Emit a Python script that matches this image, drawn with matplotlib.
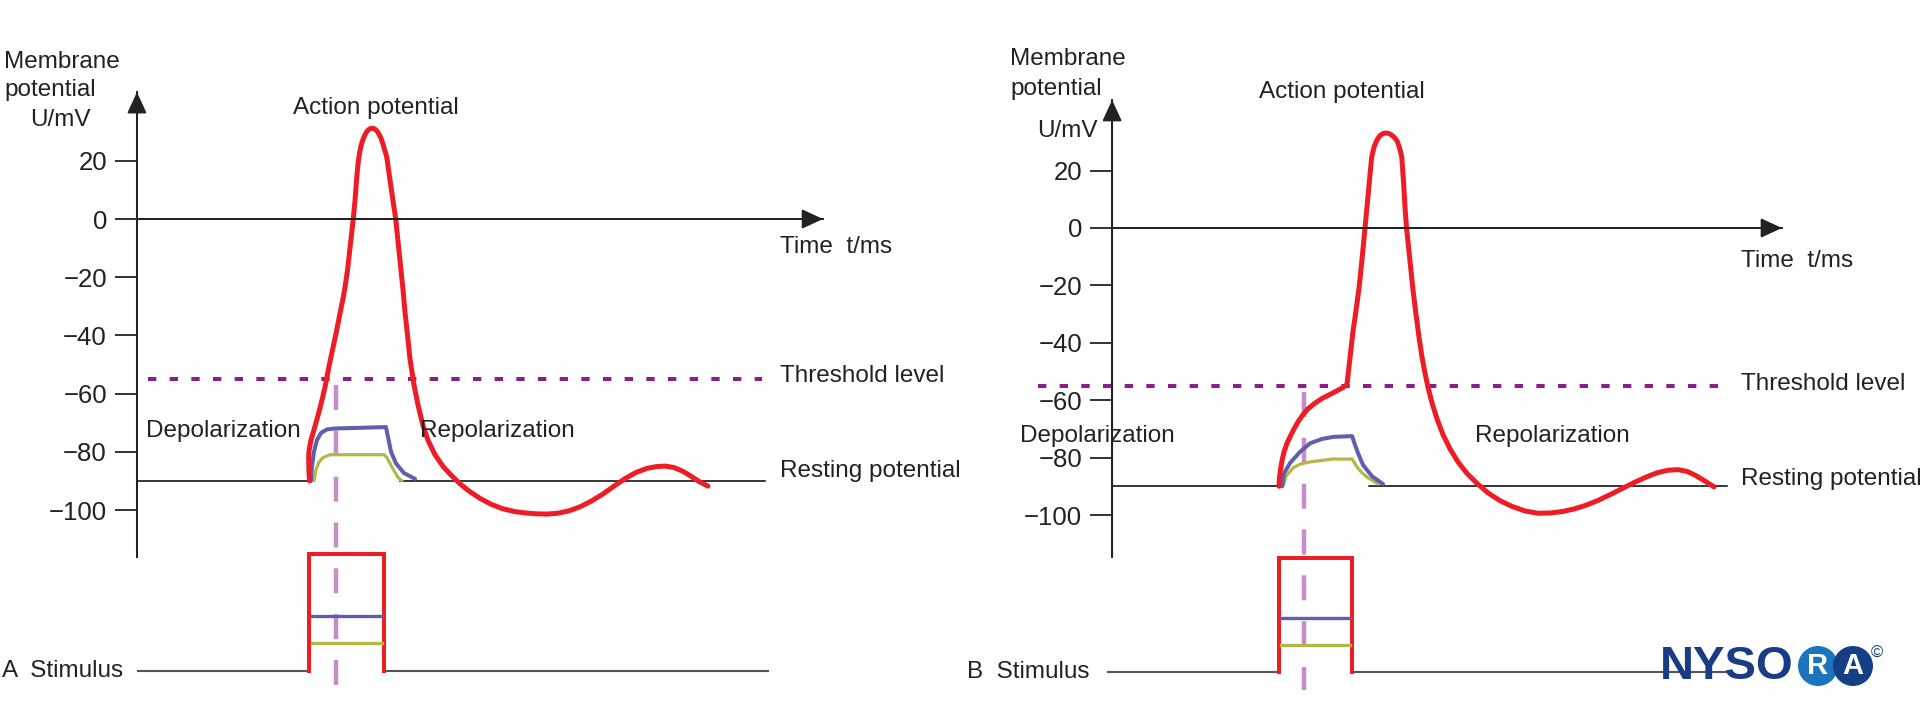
import matplotlib.pyplot as plt
from matplotlib.patches import Ellipse

plt.rcParams['font.family'] = ['Liberation Sans', 'DejaVu Sans']
plt.rcParams['lines.scale_dashes'] = False

# membrane potential (mV)
y_ticks = [20, 0, -20, -40, -60, -80, -100]
threshold = -55
resting = -90

# panel A: time (ms) and potential (mV)
a_red_t = [0.03, -0.01, -0.02, 0, 0.13, 0.33, 0.53, 0.73, 0.9, 1.07, 1.23, 1.4, 1.6,
           1.8, 1.97, 2.13, 2.3, 2.43, 2.57, 2.7, 2.83, 2.95, 3.07, 3.17, 3.27, 3.37,
           3.47, 3.58, 3.7, 3.83, 3.97, 4.1, 4.23, 4.37, 4.5, 4.63, 4.77, 4.9, 5.03,
           5.18, 5.33, 5.53, 5.78, 6.03, 6.27, 6.4, 6.57, 6.73, 7.0, 7.27, 7.6, 7.93,
           8.4, 8.93, 9.47, 10.07, 10.67, 11.4, 12.13, 12.87, 13.67, 14.4, 15.13,
           15.87, 16.6, 17.33, 18.07, 18.8, 19.6, 20.33, 21.07, 21.8, 22.53, 23.13,
           23.73, 24.33, 24.93, 25.47, 26.0, 26.6]
a_red_u = [-90, -86, -82, -79.7, -76, -72.5, -68.8, -65, -61.5, -57.7, -53.4, -49, -44.2,
           -39.4, -35, -30.8, -26.5, -22.5, -17.5, -11.5, -5.5, 0, 6.5, 13.5, 19, 22.7,
           25.2, 27, 28.6, 29.9, 30.7, 31.1, 31.2, 31.0, 30.4, 29.5, 28.1, 26.3, 24.0,
           21.4, 15.9, 8.8, 0, -12.5, -24.4, -32, -40, -48, -57, -64, -71, -76,
           -81, -85, -88, -91, -93.5, -96, -98, -99.5, -100.5, -101, -101.3,
           -101.4, -101.1, -100.3, -98.9, -97, -94.5, -91.8, -89.2, -87.1, -85.7, -85.1,
           -84.9, -85.4, -86.7, -88.4, -90.2, -91.8]
a_blue_t = [0.13, 0.2, 0.33, 0.53, 0.8, 1.2, 1.73, 5.13, 5.27, 5.47, 5.8, 6.33, 7.07]
a_blue_u = [-90, -85, -80, -76, -73.5, -72.3, -72, -71.5, -75, -80, -84, -87.3, -89.3]
a_yel_t = [0.33, 0.47, 0.67, 0.93, 1.4, 5.0, 5.2, 5.4, 5.67, 5.93, 6.2]
a_yel_u = [-90, -86, -83.5, -82, -81, -81, -82, -84, -86.5, -88.8, -90]

# panel B
b_red_t = [0, 0.03, 0.1, 0.2, 0.33, 0.53, 0.73, 1.0, 1.27, 1.6, 1.93, 2.4, 2.93, 3.47,
           3.93, 4.27, 4.53, 4.67, 4.8, 4.93, 5.07, 5.2, 5.33, 5.53, 5.73, 5.93, 6.07,
           6.18, 6.33, 6.53, 6.73, 6.93, 7.13, 7.33, 7.53, 7.73, 7.87, 8.03, 8.18,
           8.3, 8.4, 8.5, 8.7, 8.93, 9.13, 9.33, 9.53, 9.73, 9.93, 10.2, 10.53,
           10.93, 11.4, 11.93, 12.53, 13.2, 13.93, 14.73, 15.53, 16.4, 17.27, 18.07,
           18.87, 19.67, 20.47, 21.27, 22.07, 22.87, 23.67, 24.47, 25.2, 25.93, 26.6,
           27.2, 27.8, 28.4, 29.0]
b_red_u = [-90, -87, -84, -81, -78, -75, -72.8, -70, -67.5, -65, -63, -61, -59.2, -57.8,
           -56.5, -55.6, -54.5, -48, -42, -36, -31, -26, -21, -11, 0, 11, 19,
           24.8, 28.2, 30.7, 32.2, 32.9, 33.1, 32.9, 32.3, 31.3, 30.3, 28, 24.8,
           16, 7, 0, -10, -21.6, -30, -38, -45, -50.5, -55.5, -61, -66.5,
           -72, -77, -81.5, -85.5, -89, -92.3, -95, -97, -98.6, -99.4, -99.3,
           -98.8, -97.9, -96.6, -94.9, -92.9, -90.8, -88.7, -86.8, -85.3, -84.4, -84.2,
           -84.8, -86.3, -88.2, -90.2]
b_blue_t = [0.2, 0.33, 0.73, 1.4, 2.07, 2.87, 3.6, 4.87, 5.0, 5.27, 5.6, 6.2, 6.93]
b_blue_u = [-90, -85.5, -81.9, -78, -75, -73.5, -72.8, -72.5, -74.6, -78.5, -82.6, -86.5, -89.2]
b_yel_t = [0.27, 0.47, 0.93, 1.4, 2.07, 3.6, 4.87, 5.2, 5.53, 5.87, 6.6]
b_yel_u = [-90, -86.5, -83.6, -82.3, -81.5, -80.5, -80.5, -83.3, -85.3, -86.8, -89.2]

# stimulus amplitudes (arbitrary units)
stim_red = 1.0
stim_blue = 0.47
stim_yel = 0.24
a_stim_end = 5.0
b_stim_end = 4.87

RED = '#EE1C25'
BLUE = '#5F5FAD'
YEL = '#B3B746'
THR = '#8B1E8B'
PINK = '#C98BC9'
AX = '#222222'

fig = plt.figure(figsize=(19.2, 7.24), dpi=100)


def make_axes(left, xlim, ylim, slim):
    ax = fig.add_axes([left, 0, 0.5, 1])
    ax.set_xlim(*xlim)
    ax.set_ylim(*ylim)
    ax.patch.set_visible(False)
    sax = fig.add_axes([left, 0, 0.5, 1])
    sax.set_xlim(*xlim)
    sax.set_ylim(*slim)
    sax.axis('off')
    sax.patch.set_visible(False)
    return ax, sax


def draw_panel(ax, sax, red, blue, yel, stim_end, lay):
    at = lay['axis_t']
    for s in ['top', 'right']:
        ax.spines[s].set_visible(False)
    ax.spines['left'].set_position(('data', at))
    ax.spines['left'].set_bounds(lay['axis_bot'], lay['axis_top'])
    ax.spines['bottom'].set_position(('data', 0))
    ax.spines['bottom'].set_bounds(at, lay['time_end'])
    for s in ['left', 'bottom']:
        ax.spines[s].set_color(AX)
        ax.spines[s].set_linewidth(1.4)
    ax.set_xticks([])
    ax.set_yticks(y_ticks)
    ax.set_yticklabels([str(v).replace('-', '\u2212') for v in y_ticks])
    ax.tick_params(axis='y', length=15.8, width=1.3, pad=5.8, labelsize=18.5,
                   colors=AX)
    head = dict(arrowstyle='-|>,head_length=0.65,head_width=0.3', mutation_scale=20,
                color=AX, lw=1.4, shrinkA=0, shrinkB=0)
    ax.annotate('', xy=(at, lay['axis_top']), xytext=(at, lay['axis_bot']), arrowprops=head)
    ax.annotate('', xy=(lay['time_end'], 0), xytext=(at, 0), arrowprops=head)

    # resting and threshold levels
    ax.plot([at, 0], [resting, resting], color='k', lw=1.1)
    ax.plot(lay['rest_right'], [resting, resting], color='k', lw=1.1)
    ax.plot(lay['thr_span'], [threshold, threshold], color=THR, lw=2.9,
            ls=(0, (6, 9.6)))

    # stimulus marker
    ax.plot([lay['pink_t']] * 2, [-57, lay['pink_bot']], color=PINK, lw=3.2,
            ls=(0, (18, 15)))

    ax.plot(yel[0], yel[1], color=YEL, lw=2.3, solid_capstyle='round',
            solid_joinstyle='round')
    ax.plot(blue[0], blue[1], color=BLUE, lw=2.9, solid_capstyle='round',
            solid_joinstyle='round')
    ax.plot(red[0], red[1], color=RED, lw=3.6, solid_capstyle='round',
            solid_joinstyle='round')

    # stimulus trace
    sax.plot([lay['stim_x0'], 0], [0, 0], color='#555555', lw=1.5)
    sax.plot([stim_end, lay['stim_x1']], [0, 0], color='#555555', lw=1.5)
    sax.plot([0, 0, stim_end, stim_end], [0, stim_red, stim_red, 0], color=RED, lw=2.9,
             solid_joinstyle='miter')
    sax.plot(lay['bar'], [stim_blue] * 2, color=BLUE, lw=2.4)
    sax.plot(lay['bar'], [stim_yel] * 2, color=YEL, lw=2.4)

    tk = dict(fontsize=17.5, color=AX, va='center')
    ax.text(*lay['ap'], 'Action potential', ha='center', **tk)
    ax.text(*lay['time'], 'Time  t/ms', ha='left', **tk)
    ax.text(*lay['thr'], 'Threshold level', ha='left', **tk)
    ax.text(*lay['rest'], 'Resting potential', ha='left', **tk)
    ax.text(*lay['dep'], 'Depolarization', ha='left', **tk)
    ax.text(*lay['rep'], 'Repolarization', ha='left', **tk)
    ax.text(*lay['mem'], 'Membrane', ha='left', **tk)
    ax.text(*lay['pot'], 'potential', ha='left', **tk)
    ax.text(*lay['unit'], 'U/mV', ha='left', **tk)
    sax.text(lay['stim_lab'], 0, lay['letter'] + '  Stimulus', ha='left', **tk)


axA, saxA = make_axes(0.0, (-20.6, 43.4), (-173.54, 75.26), (-0.453, 5.735))
axB, saxB = make_axes(0.5, (-21.27, 42.73), (-172.82, 79.44), (-0.456, 5.895))

draw_panel(axA, saxA, (a_red_t, a_red_u), (a_blue_t, a_blue_u), (a_yel_t, a_yel_u),
           a_stim_end,
           dict(axis_t=-11.47, axis_bot=-116.2, axis_top=43.6, time_end=34.27,
                rest_right=[6.07, 30.4], thr_span=[-10.73, 30.2], pink_t=1.8,
                pink_bot=-162.5, stim_x0=-11.4, stim_x1=30.6, bar=[0.2, 4.87],
                ap=(4.47, 38.1), time=(31.4, -9.6), thr=(31.4, -54), rest=(31.4, -86.6),
                dep=(-10.87, -72.9), rep=(7.4, -72.9), mem=(-20.33, 54),
                pot=(-20.33, 44.3), unit=(-18.6, 34), stim_lab=-20.47, letter='A'))

draw_panel(axB, saxB, (b_red_t, b_red_u), (b_blue_t, b_blue_u), (b_yel_t, b_yel_u),
           b_stim_end,
           dict(axis_t=-11.13, axis_bot=-114.6, axis_top=44.6, time_end=33.53,
                rest_right=[6.0, 29.87], thr_span=[-16.07, 29.7], pink_t=1.67,
                pink_bot=-161, stim_x0=-11.4, stim_x1=29.93, bar=[0.13, 4.73],
                ap=(4.2, 47.4), time=(30.8, -11.5), thr=(30.8, -54.4), rest=(30.8, -87.5),
                dep=(-17.27, -72.5), rep=(13.07, -72.5), mem=(-17.93, 58.9),
                pot=(-17.93, 48.4), unit=(-16.13, 33.8), stim_lab=-20.8, letter='B'))

# NYSORA logo
W, H = 1920, 724
fig.text(1660 / W, 1 - 667 / H, 'NYSO', ha='left', va='center', fontsize=34,
         fontweight='bold', color='#193C87')
for cx, fc, ch in [(1818, '#1C75BC', 'R'), (1853, '#143F84', 'A')]:
    fig.add_artist(Ellipse((cx / W, 1 - 666 / H), 40 / W, 40 / H,
                           transform=fig.transFigure, fc=fc, ec='none'))
    fig.text(cx / W, 1 - 666 / H, ch, ha='center', va='center', fontsize=21,
             fontweight='bold', color='white')
fig.text(1877 / W, 1 - 653 / H, '\u00a9', ha='center', va='center', fontsize=12,
         color='#193C87')

fig.savefig('out.png', dpi=100, facecolor='white')
